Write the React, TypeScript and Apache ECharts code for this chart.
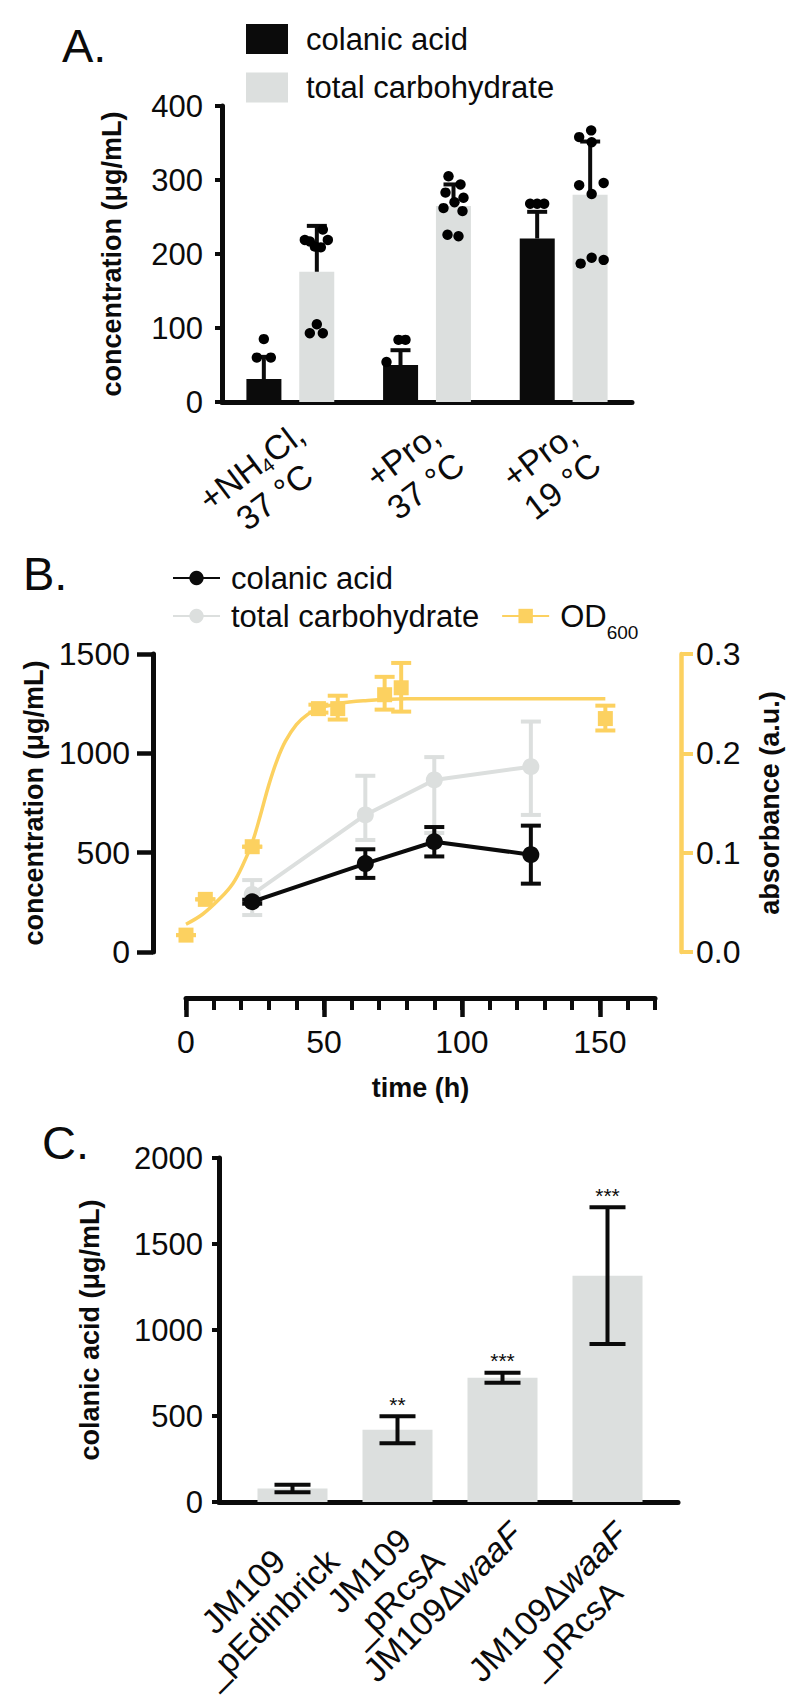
import React, { useEffect, useRef } from 'react';
import * as echarts from 'echarts';

const FONT = '"Liberation Sans", Arial, Helvetica, sans-serif';
const BLACK = '#0b0b0b';
const GRAY = '#DCDFDE';
const YELLOW = '#FCD160';

// ---------- Panel A ----------
const aCategories = ['+NH₄Cl,\n37 °C', '+Pro,\n37 °C', '+Pro,\n19 °C'];
const aColanicMean = [31, 50, 221];
const aColanicSD = [30, 20, 36];
const aTotalMean = [176, 265, 280];
const aTotalSD = [62, 29, 72];
// individual replicates: [category index, value, jitter slot]
const aColanicPoints = [
  [0, 85, 0], [0, 60, -0.7], [0, 60, 0.7],
  [1, 84, -0.2], [1, 84, 0.5], [1, 54, -1.4],
  [2, 268, -0.7], [2, 268, 0], [2, 268, 0.7],
];
const aTotalPoints = [
  [0, 233, 0.6], [0, 219, -1.2], [0, 217, -0.7], [0, 219, 1.1], [0, 210, -0.2], [0, 209, 0.4],
  [0, 105, 0], [0, 93, -0.7], [0, 93, 0.6],
  [1, 305, -0.5], [1, 294, 0.7], [1, 283, -0.8], [1, 276, 1.0], [1, 270, 0.1], [1, 262, -1.0],
  [1, 258, 0.9], [1, 226, -0.6], [1, 224, 0.5],
  [2, 367, 0.1], [2, 358, -1.1], [2, 351, 0.15], [2, 296, 1.35], [2, 293, -1.1], [2, 281, 0.15],
  [2, 195, 0.15], [2, 192, 1.35], [2, 187, -0.95],
];

// ---------- Panel B ----------
const bTimes = [24, 65, 90, 125];
const bColanic = [253, 445, 555, 490];
const bColanicErr = [10, 72, 74, 146];
const bTotal = [290, 690, 866, 933];
const bTotalErrLow = [104, 126, 267, 243];
const bTotalErrHigh = [72, 197, 115, 227];
const bOdTimes = [0, 7, 24, 48, 55, 72, 78, 152];
const bOd = [0.017, 0.053, 0.106, 0.245, 0.245, 0.259, 0.266, 0.235];
const bOdErrLow = [0, 0, 0, 0.004, 0.011, 0.015, 0.024, 0.012];
const bOdErrHigh = [0, 0, 0, 0.004, 0.013, 0.018, 0.025, 0.013];
// fitted growth curve
const bFitTimes = [0, 6, 12, 17, 21, 24, 27, 30, 33, 36, 40, 44, 48, 55, 65, 80, 152];
const bFitValues = [0.028, 0.038, 0.053, 0.069, 0.09, 0.11, 0.138, 0.168, 0.193, 0.212, 0.229, 0.239, 0.245, 0.25, 0.253, 0.255, 0.255];
const bMinorTicks = [0, 10, 20, 30, 40, 50, 60, 70, 80, 90, 100, 110, 120, 130, 140, 150, 160, 170];
const bMajorTicks = [0, 50, 100, 150];

// ---------- Panel C ----------
const cCategories = ['JM109\n_pEdinbrick', 'JM109\n_pRcsA', 'JM109ΔwaaF', 'JM109ΔwaaF\n_pRcsA'];
const cMean = [78, 420, 722, 1316];
const cErr = [22, 78, 29, 397];
const cStars = ['', '**', '***', '***'];

const SUB = '₀₁₂₃₄₅₆₇₈₉';
function richLineSub(line: string): string {
  let out = '';
  let buf = '';
  let mode = 'a';
  for (const ch of line) {
    const i = SUB.indexOf(ch);
    const m = i >= 0 ? 's' : 'a';
    const c = i >= 0 ? String(i) : ch;
    if (m !== mode && buf) {
      out += `{${mode}|${buf}}`;
      buf = '';
    }
    mode = m;
    buf += c;
  }
  if (buf) out += `{${mode}|${buf}}`;
  return out;
}
function richLineItalic(line: string): string {
  const k = line.indexOf('Δ');
  if (k < 0) return `{a|${line}}`;
  return `{a|${line.slice(0, k + 1)}}{i|${line.slice(k + 1)}}`;
}

const axisNameStyle = { fontSize: 27, fontWeight: 'bold', fontFamily: FONT, color: BLACK };
const plain = (v: number) => String(v);

export default function App() {
  const ref = useRef<HTMLDivElement>(null);

  useEffect(() => {
    if (!ref.current) return;
    const chart = echarts.init(ref.current, null, { renderer: 'svg' });

    const aOffset = 26.5;
    const errA = [
      ...aColanicMean.map((m, i) => [i, m, aColanicSD[i], -1]),
      ...aTotalMean.map((m, i) => [i, m, aTotalSD[i], 1]),
    ];
    const dotsA = [
      ...aColanicPoints.map((p) => [p[0], p[1], p[2], -1]),
      ...aTotalPoints.map((p) => [p[0], p[1], p[2], 1]),
    ];

    const errRender = (color: string, capHalf: number, width: number) => (params: any, api: any) => {
      const x = api.value(0);
      const m = api.value(1);
      const lo = api.value(2);
      const hi = api.value(3);
      const top = api.coord([x, m + hi]);
      const bot = api.coord([x, m - lo]);
      const style = { stroke: color, lineWidth: width };
      return {
        type: 'group',
        children: [
          { type: 'line', shape: { x1: top[0], y1: top[1], x2: bot[0], y2: bot[1] }, style },
          { type: 'line', shape: { x1: top[0] - capHalf, y1: top[1], x2: top[0] + capHalf, y2: top[1] }, style },
          { type: 'line', shape: { x1: bot[0] - capHalf, y1: bot[1], x2: bot[0] + capHalf, y2: bot[1] }, style },
        ],
      };
    };

    const option: any = {
      animation: false,
      backgroundColor: '#ffffff',
      textStyle: { fontFamily: FONT },
      grid: [
        { left: 222, top: 106, width: 410, height: 296, outerBoundsMode: 'none', containLabel: false },
        { left: 186, top: 654, width: 469, height: 298, outerBoundsMode: 'none', containLabel: false },
        { left: 240, top: 1158, width: 420, height: 344, outerBoundsMode: 'none', containLabel: false },
        // frame that carries only the longer x-axis baseline of panel C
        { left: 219, top: 1158, width: 459, height: 344, outerBoundsMode: 'none', containLabel: false },
      ],
      legend: [
        {
          data: ['colanic acid', 'total carbohydrate'],
          orient: 'vertical',
          left: 241,
          top: 16,
          itemWidth: 42,
          itemHeight: 30,
          itemGap: 12.5,
          icon: 'rect',
          selectedMode: false,
          textStyle: { fontSize: 31, fontFamily: FONT, color: BLACK, lineHeight: 36, padding: [0, 0, 0, 13] },
        },
        {
          data: ['colanic acid '],
          left: 167,
          top: 555,
          itemWidth: 47,
          itemHeight: 18,
          selectedMode: false,
          formatter: (n: string) => n.trim(),
          textStyle: { fontSize: 31, fontFamily: FONT, color: BLACK, lineHeight: 36, padding: [0, 0, 0, 6] },
        },
        {
          data: ['total carbohydrate ', 'OD600'],
          left: 167,
          top: 585,
          itemWidth: 47,
          itemHeight: 18,
          itemGap: 22,
          selectedMode: false,
          formatter: (n: string) => (n === 'OD600' ? '{a|OD}{s|600}' : n.trim()),
          textStyle: {
            fontSize: 31,
            fontFamily: FONT,
            color: BLACK,
            lineHeight: 52,
            padding: [0, 0, 0, 6],
            rich: {
              a: { fontSize: 31, fontFamily: FONT, color: BLACK, lineHeight: 52 },
              s: { fontSize: 19, fontFamily: FONT, color: BLACK, lineHeight: 18, verticalAlign: 'bottom' },
            },
          },
        },
      ],
      xAxis: [
        {
          gridIndex: 0,
          type: 'category',
          data: aCategories,
          axisLine: { onZero: false, lineStyle: { color: BLACK, width: 5 } },
          axisTick: { alignWithLabel: true, length: 9, lineStyle: { color: BLACK, width: 4 } },
          axisLabel: {
            interval: 0,
            rotate: 37,
            margin: 0,
            padding: [94, 9, 0, 0],
            formatter: (v: string) => v.split('\n').map(richLineSub).join('\n'),
            rich: {
              a: { fontSize: 34, fontFamily: FONT, color: BLACK, lineHeight: 38, align: 'center' },
              s: { fontSize: 20, fontFamily: FONT, color: BLACK, lineHeight: 16, verticalAlign: 'bottom', align: 'center' },
            },
          },
        },
        {
          gridIndex: 1,
          type: 'value',
          position: 'bottom',
          min: 0,
          max: 170,
          offset: 46,
          axisLine: { onZero: false, lineStyle: { color: BLACK, width: 5 } },
          axisTick: { customValues: bMinorTicks, length: 12, lineStyle: { color: BLACK, width: 4 } },
          axisLabel: { customValues: bMajorTicks, fontSize: 32, fontFamily: FONT, color: BLACK, margin: 28, formatter: plain },
          splitLine: { show: false },
          name: 'time (h)',
          nameLocation: 'middle',
          nameGap: 76,
          nameTextStyle: axisNameStyle,
        },
        {
          gridIndex: 1,
          type: 'value',
          position: 'bottom',
          min: 0,
          max: 170,
          offset: 46,
          axisLine: { show: false, onZero: false },
          axisTick: { customValues: bMajorTicks, length: 19, lineStyle: { color: BLACK, width: 4.5 } },
          axisLabel: { show: false },
          splitLine: { show: false },
        },
        {
          gridIndex: 2,
          type: 'category',
          data: cCategories,
          axisLine: { show: false, onZero: false },
          axisTick: { alignWithLabel: true, length: 9, lineStyle: { color: BLACK, width: 4 } },
          axisLabel: {
            interval: 0,
            rotate: 45,
            margin: 13,
            align: 'right',
            verticalAlign: 'top',
            formatter: (v: string) => v.split('\n').map(richLineItalic).join('\n'),
            rich: {
              a: { fontSize: 34, fontFamily: FONT, color: BLACK, lineHeight: 38, align: 'center' },
              i: { fontSize: 34, fontFamily: FONT, color: BLACK, lineHeight: 38, fontStyle: 'italic', align: 'center' },
            },
          },
        },
        {
          gridIndex: 3,
          type: 'value',
          min: 0,
          max: 1,
          axisLine: { onZero: false, lineStyle: { color: BLACK, width: 5 } },
          axisTick: { show: false },
          axisLabel: { show: false },
          splitLine: { show: false },
        },
      ],
      yAxis: [
        {
          gridIndex: 0,
          type: 'value',
          min: 0,
          max: 400,
          interval: 100,
          axisLine: { show: true, onZero: false, lineStyle: { color: BLACK, width: 5 } },
          axisTick: { show: true, length: 7, lineStyle: { color: BLACK, width: 4 } },
          axisLabel: { fontSize: 31, fontFamily: FONT, color: BLACK, margin: 19, formatter: plain },
          splitLine: { show: false },
          name: 'concentration (μg/mL)',
          nameLocation: 'middle',
          nameRotate: 90,
          nameGap: 97,
          nameTextStyle: axisNameStyle,
        },
        {
          gridIndex: 1,
          type: 'value',
          position: 'left',
          min: 0,
          max: 1500,
          interval: 500,
          offset: 33,
          axisLine: { show: true, onZero: false, lineStyle: { color: BLACK, width: 5 } },
          axisTick: { show: true, length: 16, lineStyle: { color: BLACK, width: 4.5 } },
          axisLabel: { fontSize: 32, fontFamily: FONT, color: BLACK, margin: 23, formatter: plain },
          splitLine: { show: false },
          name: 'concentration (μg/mL)',
          nameLocation: 'middle',
          nameRotate: 90,
          nameGap: 101,
          nameTextStyle: axisNameStyle,
        },
        {
          gridIndex: 1,
          type: 'value',
          position: 'right',
          min: 0,
          max: 0.3,
          interval: 0.1,
          offset: 26,
          axisLine: { show: true, onZero: false, lineStyle: { color: YELLOW, width: 4.5 } },
          axisTick: { show: true, length: 12, lineStyle: { color: YELLOW, width: 4 } },
          axisLabel: { fontSize: 32, fontFamily: FONT, color: BLACK, margin: 15, formatter: (v: number) => v.toFixed(1) },
          splitLine: { show: false },
          name: 'absorbance (a.u.)',
          nameLocation: 'middle',
          nameRotate: 90,
          nameGap: 75,
          nameTextStyle: axisNameStyle,
        },
        {
          gridIndex: 2,
          type: 'value',
          min: 0,
          max: 2000,
          interval: 500,
          offset: 21,
          axisLine: { show: true, onZero: false, lineStyle: { color: BLACK, width: 5 } },
          axisTick: { show: true, length: 7, lineStyle: { color: BLACK, width: 4 } },
          axisLabel: { fontSize: 31, fontFamily: FONT, color: BLACK, margin: 16, formatter: plain },
          splitLine: { show: false },
          name: 'colanic acid (μg/mL)',
          nameLocation: 'middle',
          nameRotate: 90,
          nameGap: 116,
          nameTextStyle: axisNameStyle,
        },
        {
          gridIndex: 3,
          type: 'value',
          show: false,
          min: 0,
          max: 1,
        },
      ],
      series: [
        // ---- Panel A ----
        {
          name: 'colanic acid',
          type: 'bar',
          xAxisIndex: 0,
          yAxisIndex: 0,
          data: aColanicMean,
          barWidth: 35,
          barGap: '51%',
          itemStyle: { color: BLACK },
        },
        {
          name: 'total carbohydrate',
          type: 'bar',
          xAxisIndex: 0,
          yAxisIndex: 0,
          data: aTotalMean,
          barWidth: 35,
          barGap: '51%',
          itemStyle: { color: GRAY },
        },
        {
          name: 'A SD',
          type: 'custom',
          xAxisIndex: 0,
          yAxisIndex: 0,
          data: errA,
          z: 3,
          renderItem: (params: any, api: any) => {
            const c = api.value(0);
            const m = api.value(1);
            const sd = api.value(2);
            const side = api.value(3);
            const base = api.coord([c, m]);
            const top = api.coord([c, m + sd]);
            const x = base[0] + side * aOffset;
            const style = { stroke: BLACK, lineWidth: 4 };
            return {
              type: 'group',
              children: [
                { type: 'line', shape: { x1: x, y1: base[1], x2: x, y2: top[1] }, style },
                { type: 'line', shape: { x1: x - 10, y1: top[1], x2: x + 10, y2: top[1] }, style },
              ],
            };
          },
        },
        {
          name: 'A points',
          type: 'custom',
          xAxisIndex: 0,
          yAxisIndex: 0,
          data: dotsA,
          z: 4,
          renderItem: (params: any, api: any) => {
            const c = api.value(0);
            const v = api.value(1);
            const j = api.value(2);
            const side = api.value(3);
            const p = api.coord([c, v]);
            return {
              type: 'circle',
              shape: { cx: p[0] + side * aOffset + j * 10, cy: p[1], r: 5.2 },
              style: { fill: '#000' },
            };
          },
        },
        // ---- Panel B ----
        {
          name: 'B total err',
          type: 'custom',
          xAxisIndex: 1,
          yAxisIndex: 1,
          data: bTimes.map((t, i) => [t, bTotal[i], bTotalErrLow[i], bTotalErrHigh[i]]),
          renderItem: errRender(GRAY, 10, 4),
          z: 2,
        },
        {
          name: 'total carbohydrate ',
          type: 'line',
          xAxisIndex: 1,
          yAxisIndex: 1,
          data: bTimes.map((t, i) => [t, bTotal[i]]),
          symbol: 'circle',
          symbolSize: 17,
          itemStyle: { color: GRAY },
          lineStyle: { color: GRAY, width: 4 },
          z: 3,
        },
        {
          name: 'B colanic err',
          type: 'custom',
          xAxisIndex: 1,
          yAxisIndex: 1,
          data: bTimes.map((t, i) => [t, bColanic[i], bColanicErr[i], bColanicErr[i]]),
          renderItem: errRender(BLACK, 10, 4),
          z: 4,
        },
        {
          name: 'colanic acid ',
          type: 'line',
          xAxisIndex: 1,
          yAxisIndex: 1,
          data: bTimes.map((t, i) => [t, bColanic[i]]),
          symbol: 'circle',
          symbolSize: 17,
          itemStyle: { color: BLACK },
          lineStyle: { color: BLACK, width: 4 },
          z: 5,
        },
        {
          name: 'OD600',
          type: 'line',
          xAxisIndex: 1,
          yAxisIndex: 2,
          data: bFitTimes.map((t, i) => [t, bFitValues[i]]),
          smooth: 0.4,
          symbol: 'rect',
          showSymbol: false,
          itemStyle: { color: YELLOW },
          lineStyle: { color: YELLOW, width: 3.5 },
          z: 6,
        },
        {
          name: 'B OD err',
          type: 'custom',
          xAxisIndex: 1,
          yAxisIndex: 2,
          data: bOdTimes.map((t, i) => [t, bOd[i], bOdErrLow[i], bOdErrHigh[i]]),
          renderItem: errRender(YELLOW, 10, 4),
          z: 7,
        },
        {
          name: 'OD600 points',
          type: 'scatter',
          xAxisIndex: 1,
          yAxisIndex: 2,
          data: bOdTimes.map((t, i) => [t, bOd[i]]),
          symbol: 'rect',
          symbolSize: 15,
          itemStyle: { color: YELLOW, opacity: 1 },
          z: 8,
        },
        // ---- Panel C ----
        {
          name: 'colanic acid (C)',
          type: 'bar',
          xAxisIndex: 3,
          yAxisIndex: 3,
          data: cMean,
          barWidth: 70,
          itemStyle: { color: GRAY },
        },
        {
          name: 'C err',
          type: 'custom',
          xAxisIndex: 3,
          yAxisIndex: 3,
          data: cMean.map((v, i) => [i, v, cErr[i], i]),
          z: 4,
          renderItem: (params: any, api: any) => {
            const x = api.value(0);
            const m = api.value(1);
            const e = api.value(2);
            const k = api.value(3);
            const top = api.coord([x, m + e]);
            const bot = api.coord([x, m - e]);
            const style = { stroke: BLACK, lineWidth: 4 };
            const children: any[] = [
              { type: 'line', shape: { x1: top[0], y1: top[1], x2: bot[0], y2: bot[1] }, style },
              { type: 'line', shape: { x1: top[0] - 18, y1: top[1], x2: top[0] + 18, y2: top[1] }, style },
              { type: 'line', shape: { x1: bot[0] - 18, y1: bot[1], x2: bot[0] + 18, y2: bot[1] }, style },
            ];
            const star = cStars[k];
            if (star) {
              children.push({
                type: 'text',
                x: top[0],
                y: top[1] - 12,
                style: { text: star, fontSize: 21, fontFamily: FONT, fill: BLACK, align: 'center', verticalAlign: 'middle' },
              });
            }
            return { type: 'group', children };
          },
        },
      ],
      graphic: [
        { type: 'text', x: 62, y: 45, style: { text: 'A.', fontSize: 47, fontFamily: FONT, fill: BLACK, verticalAlign: 'middle' } },
        { type: 'text', x: 23, y: 573, style: { text: 'B.', fontSize: 47, fontFamily: FONT, fill: BLACK, verticalAlign: 'middle' } },
        { type: 'text', x: 42, y: 1142, style: { text: 'C.', fontSize: 47, fontFamily: FONT, fill: BLACK, verticalAlign: 'middle' } },
      ],
    };

    chart.setOption(option);
    return () => chart.dispose();
  }, []);

  return (
    <div
      ref={ref}
      style={{ position: 'absolute', left: 0, top: 0, width: 796, height: 1704, background: '#fff' }}
    />
  );
}
